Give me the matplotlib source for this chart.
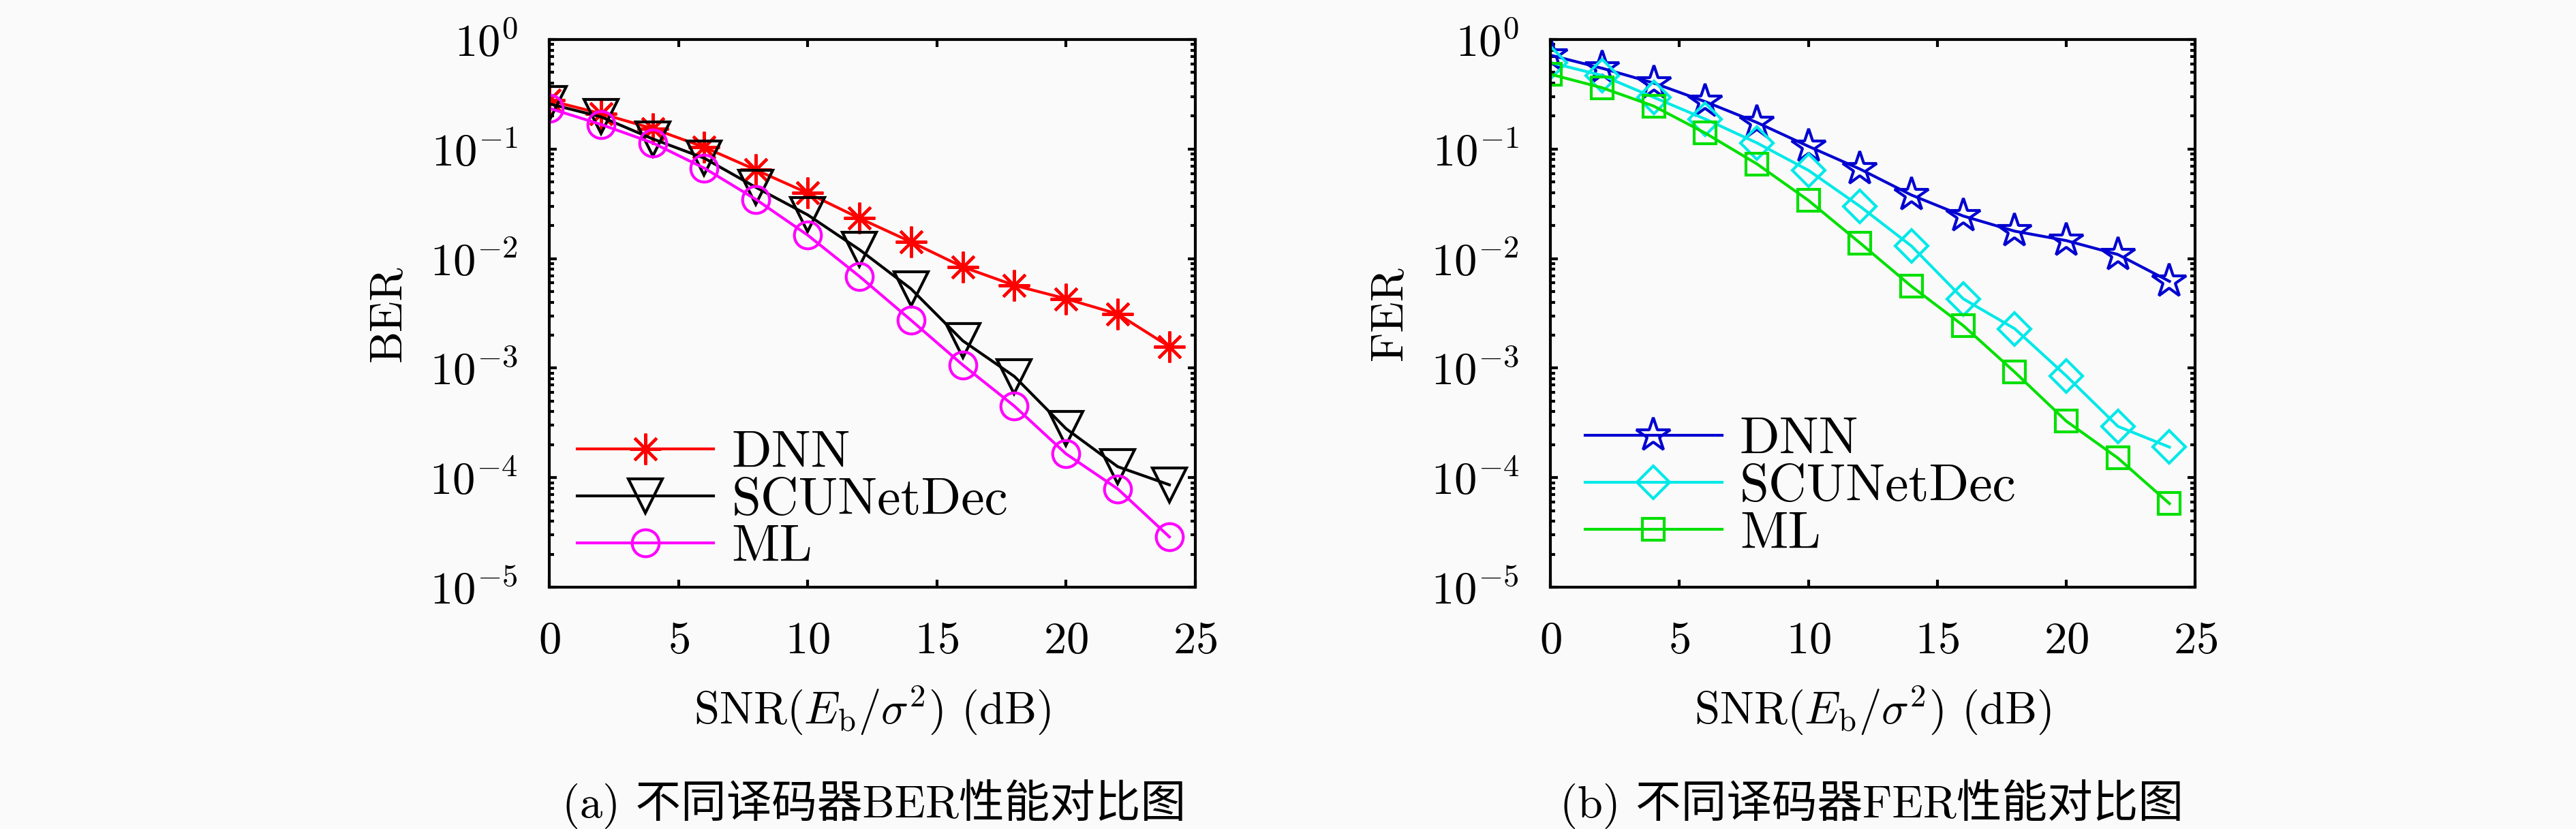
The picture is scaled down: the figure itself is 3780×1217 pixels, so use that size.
import matplotlib
matplotlib.use('Agg')
import matplotlib.pyplot as plt
from matplotlib.ticker import LogLocator, NullFormatter

plt.rcParams['font.family'] = ['cmr10', 'Noto Sans CJK SC']
plt.rcParams['mathtext.fontset'] = 'cm'
plt.rcParams['axes.unicode_minus'] = False
plt.rcParams['axes.formatter.use_mathtext'] = True

# SNR points (dB)
snr = [0, 2, 4, 6, 8, 10, 12, 14, 16, 18, 20, 22, 24]

# (a) BER
ber_dnn = [0.278, 0.211, 0.154, 0.104, 0.0645, 0.0397, 0.0234, 0.0142,
           0.0084, 0.0057, 0.0043, 0.00312, 0.00157]
ber_scu = [0.259, 0.197, 0.124, 0.0826, 0.0447, 0.0251, 0.0121, 0.0053,
           0.00178, 0.00084, 0.00028, 0.000126, 0.000086]
ber_ml = [0.236, 0.168, 0.114, 0.067, 0.0347, 0.0164, 0.0069, 0.00274,
          0.00107, 0.00045, 0.000165, 0.000079, 0.0000288]

# (b) FER
fer_dnn = [0.72, 0.547, 0.401, 0.271, 0.175, 0.106, 0.0657, 0.038,
           0.0245, 0.0178, 0.0146, 0.0109, 0.0062]
fer_scu = [0.616, 0.47, 0.297, 0.188, 0.114, 0.064, 0.030, 0.013,
           0.0043, 0.00229, 0.00085, 0.000294, 0.00019]
fer_ml = [0.482, 0.363, 0.247, 0.140, 0.0733, 0.034, 0.0139, 0.00557,
          0.00245, 0.00092, 0.000328, 0.000151, 0.000058]

labels = ['DNN', 'SCUNetDec', 'ML']
bg = '#fafafa'

fig = plt.figure(figsize=(12.6, 1217 / 300), dpi=300, facecolor=bg)
ax1 = fig.add_axes([0.2132, 0.2917, 0.2508, 0.6606])
ax2 = fig.add_axes([0.6019, 0.2917, 0.2503, 0.6606])

lw = 1.0
ax1.semilogy(snr, ber_dnn, color='#ff0000', lw=lw, marker=(8, 2, 0), ms=11,
             mew=1.0, label=labels[0])
ax1.semilogy(snr, ber_scu, color='black', lw=lw, marker='v', ms=12,
             mfc='none', mew=1.0, label=labels[1])
ax1.semilogy(snr, ber_ml, color='#ff00ff', lw=lw, marker='o', ms=9.5,
             mfc='none', mew=1.0, label=labels[2])

ax2.semilogy(snr, fer_dnn, color='#0000d0', lw=lw, marker='*', ms=12.5,
             mfc='none', mew=1.0, label=labels[0])
ax2.semilogy(snr, fer_scu, color='#00e8e8', lw=lw, marker='D', ms=8,
             mfc='none', mew=1.0, label=labels[1])
ax2.semilogy(snr, fer_ml, color='#00e000', lw=lw, marker='s', ms=7.5,
             mfc='none', mew=1.0, label=labels[2])

for ax, yl in [(ax1, 'BER'), (ax2, 'FER')]:
    ax.set_facecolor(bg)
    ax.set_xlim(0, 25)
    ax.set_ylim(1e-5, 1)
    ax.set_xticks([0, 5, 10, 15, 20, 25])
    ax.yaxis.set_major_locator(LogLocator(base=10, numticks=10))
    ax.yaxis.set_minor_locator(LogLocator(base=10, subs=range(2, 10), numticks=10))
    ax.yaxis.set_minor_formatter(NullFormatter())
    ax.tick_params(which='both', direction='in', top=True, right=True,
                   width=1.0, labelsize=16)
    ax.tick_params(which='major', length=2.7)
    ax.tick_params(which='minor', length=1.6)
    ax.tick_params(axis='y', pad=11)
    ax.tick_params(axis='x', pad=12)
    for s in ax.spines.values():
        s.set_linewidth(1.0)
    ax.set_xlabel(r'SNR$(E_{\mathrm{b}}/\sigma^2)$ (dB)', fontsize=16, va='center')
    ax.xaxis.set_label_coords(0.5, -0.225)
    ax.set_ylabel(yl, fontsize=16, va='center')
    ax.yaxis.set_label_coords(-0.249, 0.5)

leg_kw = dict(loc='lower left', frameon=False, fontsize=18.5, handlelength=2.6,
              labelspacing=0.0, handletextpad=0.34, borderaxespad=0,
              borderpad=0)
ax1.legend(bbox_to_anchor=(0.043, 0.029), **leg_kw)
ax2.legend(bbox_to_anchor=(0.054, 0.053), **leg_kw)

fig.text(0.3394, 0.0304, '(a) 不同译码器BER性能对比图', ha='center', va='center',
         fontsize=16)
fig.text(0.7267, 0.0304, '(b) 不同译码器FER性能对比图', ha='center', va='center',
         fontsize=16)

fig.savefig('out.png', dpi=300, facecolor=bg)
